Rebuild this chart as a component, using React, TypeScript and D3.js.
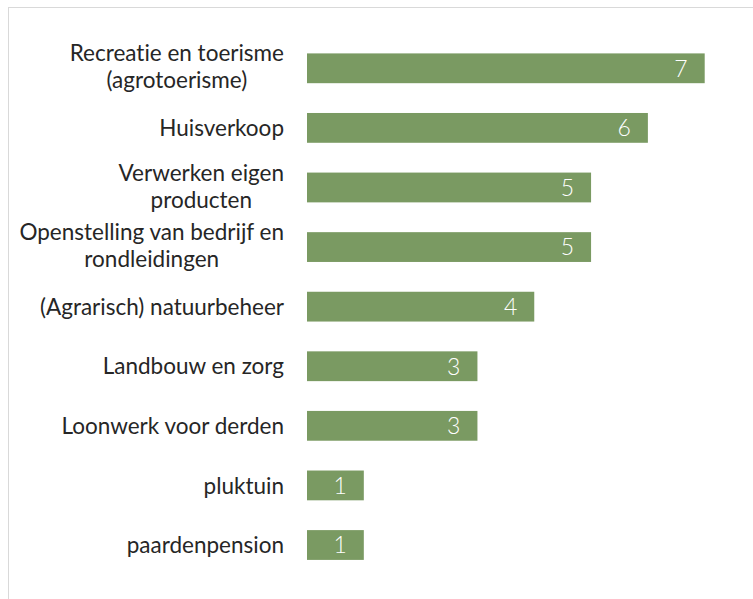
import React from "react";
import * as d3 from "d3";

const categories: string[][] = [
  ["Recreatie en toerisme", "(agrotoerisme)"],
  ["Huisverkoop"],
  ["Verwerken eigen", "producten"],
  ["Openstelling van bedrijf en", "rondleidingen"],
  ["(Agrarisch) natuurbeheer"],
  ["Landbouw en zorg"],
  ["Loonwerk voor derden"],
  ["pluktuin"],
  ["paardenpension"],
];
const values: number[] = [7, 6, 5, 5, 4, 3, 3, 1, 1];

const W = 753;
const H = 599;
const FONT = "Lato, 'Open Sans', sans-serif";
const LABEL_SIZE = 22.5;

export default function App() {
  const ids = categories.map((_, i) => String(i));
  const y = d3.scaleBand<string>().domain(ids).range([38.5, 574.8]).paddingInner(0.5).paddingOuter(0.25);
  const x = d3.scaleLinear().domain([0, 7]).range([307, 704.7]);
  const lineH = 27;
  const textStyle = { fontVariantLigatures: "none" } as React.CSSProperties;
  return (
    <svg width={W} height={H} style={{ position: "absolute", left: 0, top: 0 }}>
      <rect x={0} y={0} width={W} height={H} fill="#fff" />
      <rect x={8.5} y={7.5} width={W + 10} height={H + 10} fill="#fff" stroke="#d9d9d9" strokeWidth={1} />
      {values.map((v, i) => {
        const yy = y(String(i))!;
        const bh = y.bandwidth();
        const cy = yy + bh / 2;
        const lines = categories[i];
        return (
          <g key={i}>
            <rect x={x(0)} y={yy} width={x(v) - x(0)} height={bh} fill="#7a9a62" />
            <text
              x={x(v) - 17}
              y={cy}
              dy="0.36em"
              textAnchor="end"
              fill="#fff"
              fontFamily={FONT}
              fontSize={23}
              fontWeight={300}
            >
              {v}
            </text>
            {lines.length === 1 ? (
              <text x={284} y={cy} dy="0.36em" textAnchor="end" fill="#262626" fontFamily={FONT} fontSize={LABEL_SIZE} fontWeight={400} style={textStyle}>
                {lines[0]}
              </text>
            ) : (
              <MultiLine lines={lines} rightX={284} cy={cy - 1.5} lineH={lineH} style={textStyle} />
            )}
          </g>
        );
      })}
    </svg>
  );
}

function MultiLine({ lines, rightX, cy, lineH, style }: { lines: string[]; rightX: number; cy: number; lineH: number; style: React.CSSProperties }) {
  const ref = React.useRef<SVGGElement>(null);
  React.useEffect(() => {
    const g = d3.select(ref.current);
    const texts = g.selectAll<SVGTextElement, unknown>("text");
    let maxW = 0;
    texts.each(function () {
      maxW = Math.max(maxW, this.getComputedTextLength());
    });
    texts.attr("x", rightX - maxW / 2);
  }, [lines, rightX]);
  const top = cy - ((lines.length - 1) * lineH) / 2;
  return (
    <g ref={ref}>
      {lines.map((l, j) => (
        <text key={j} x={rightX} y={top + j * lineH} dy="0.36em" textAnchor="middle" fill="#262626" fontFamily={FONT} fontSize={LABEL_SIZE} fontWeight={400} style={style}>
          {l}
        </text>
      ))}
    </g>
  );
}
